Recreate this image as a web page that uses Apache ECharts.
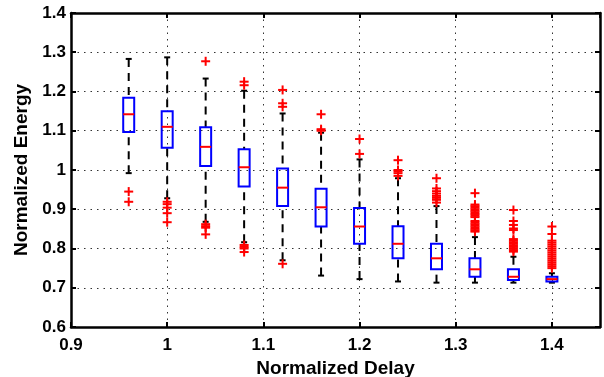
<!DOCTYPE html>
<html><head><meta charset="utf-8">
<script src="https://cdn.jsdelivr.net/npm/echarts@6/dist/echarts.min.js"></script>
<style>html,body{margin:0;padding:0;background:#fff}#c{width:604px;height:377px}</style>
</head><body><div id="c"></div>
<script>
// ---- data ----
const positions   = [0.96, 1.00, 1.04, 1.08, 1.12, 1.16, 1.20, 1.24, 1.28, 1.32, 1.36, 1.40];
const whiskerLow  = [0.992, 0.928, 0.868, 0.816, 0.770, 0.731, 0.722, 0.716, 0.713, 0.713, 0.713, 0.713];
const q1          = [1.097, 1.057, 1.010, 0.958, 0.908, 0.856, 0.812, 0.775, 0.747, 0.728, 0.720, 0.716];
const medians     = [1.142, 1.110, 1.059, 1.007, 0.955, 0.905, 0.856, 0.812, 0.775, 0.747, 0.728, 0.722];
const q3          = [1.184, 1.150, 1.109, 1.053, 1.004, 0.952, 0.903, 0.857, 0.812, 0.775, 0.747, 0.728];
const whiskerHigh = [1.283, 1.287, 1.233, 1.202, 1.144, 1.095, 1.027, 0.979, 0.908, 0.829, 0.779, 0.737];
const outliers = [
  [0.945, 0.919],
  [0.919, 0.913, 0.904, 0.890, 0.867],
  [1.277, 0.862, 0.857, 0.853, 0.836],
  [1.225, 1.216, 0.809, 0.804, 0.800, 0.791],
  [1.204, 1.170, 1.161, 0.761],
  [1.142, 1.104, 1.100],
  [1.079, 1.041],
  [1.025, 1.000, 0.997, 0.992, 0.985],
  [0.979, 0.953, 0.946, 0.940, 0.934, 0.929, 0.924, 0.917],
  [0.941, 0.912, 0.908, 0.904, 0.900, 0.896, 0.892, 0.888, 0.884, 0.880, 0.870, 0.866, 0.862, 0.858, 0.854, 0.850, 0.846, 0.843],
  [0.898, 0.870, 0.860, 0.851, 0.847, 0.824, 0.820, 0.816, 0.812, 0.808, 0.804, 0.800, 0.796, 0.792],
  [0.856, 0.837, 0.820, 0.815, 0.810, 0.805, 0.800, 0.795, 0.790, 0.785, 0.780, 0.775, 0.770, 0.765, 0.760, 0.755, 0.750]
];
const xTicks = [0.9, 1.0, 1.1, 1.2, 1.3, 1.4];
const yTicks = [0.6, 0.7, 0.8, 0.9, 1.0, 1.1, 1.2, 1.3, 1.4];
const xTitle = 'Normalized Delay';
const yTitle = 'Normalized Energy';

// ---- chart ----
const FONT = '"Liberation Sans", Arial, Helvetica, sans-serif';
const boxData = positions.map((p, i) => [p, whiskerLow[i], q1[i], medians[i], q3[i], whiskerHigh[i]]);
const outlierData = [];
outliers.forEach((arr, i) => arr.forEach(v => outlierData.push([positions[i], v])));

function renderBox(params, api) {
  const x = api.value(0);
  const pLow = api.coord([x, api.value(1)]);
  const pQ1 = api.coord([x, api.value(2)]);
  const pMed = api.coord([x, api.value(3)]);
  const pQ3 = api.coord([x, api.value(4)]);
  const pHigh = api.coord([x, api.value(5)]);
  const cx = pLow[0];
  const hw = 5.5, cw = 3;
  const dash = {stroke: '#000', lineWidth: 2, lineDash: [8, 6], fill: null};
  return {type: 'group', children: [
    {type: 'line', shape: {x1: cx, y1: pHigh[1], x2: cx, y2: pQ3[1]}, style: dash},
    {type: 'line', shape: {x1: cx, y1: pLow[1], x2: cx, y2: pQ1[1]}, style: dash},
    {type: 'line', shape: {x1: cx - cw, y1: pHigh[1], x2: cx + cw, y2: pHigh[1]}, style: {stroke: '#000', lineWidth: 2}},
    {type: 'line', shape: {x1: cx - cw, y1: pLow[1], x2: cx + cw, y2: pLow[1]}, style: {stroke: '#000', lineWidth: 2}},
    {type: 'rect', shape: {x: cx - hw, y: pQ3[1], width: hw * 2, height: pQ1[1] - pQ3[1]}, style: {stroke: '#0000ff', lineWidth: 2, fill: null}},
    {type: 'line', shape: {x1: cx - hw, y1: pMed[1], x2: cx + hw, y2: pMed[1]}, style: {stroke: '#ff0000', lineWidth: 2}}
  ]};
}
function renderPlus(params, api) {
  const p = api.coord([api.value(0), api.value(1)]);
  const s = 4.5;
  const st = {stroke: '#ff0000', lineWidth: 2};
  return {type: 'group', children: [
    {type: 'line', shape: {x1: p[0] - s, y1: p[1], x2: p[0] + s, y2: p[1]}, style: st},
    {type: 'line', shape: {x1: p[0], y1: p[1] - s, x2: p[0], y2: p[1] + s}, style: st}
  ]};
}

const gridLine = {show: true, lineStyle: {color: '#333', width: 1, type: [1.5, 5]}};
const frameLine = {show: true, onZero: false, lineStyle: {color: '#000', width: 2.5}};
const tickStyle = {show: true, inside: true, length: 5, lineStyle: {color: '#000', width: 2}};
const labelStyle = {color: '#000', fontFamily: FONT, fontWeight: 'bold', fontSize: 17};

const option = {
  animation: false,
  backgroundColor: '#fff',
  grid: {left: 71, right: 4, top: 13, bottom: 50, containLabel: false, outerBoundsMode: 'none'},
  xAxis: [
    {type: 'value', position: 'bottom', min: xTicks[0], max: 1.45, interval: 0.1,
     axisLine: frameLine, axisTick: tickStyle, splitLine: gridLine,
     axisLabel: Object.assign({margin: 10, showMaxLabel: false, formatter: v => String(+v.toFixed(2))}, labelStyle),
     name: xTitle, nameLocation: 'middle', nameGap: 30,
     nameTextStyle: {color: '#000', fontFamily: FONT, fontWeight: 'bold', fontSize: 19}},
    {type: 'value', position: 'top', min: xTicks[0], max: 1.45, interval: 0.1,
     axisLine: frameLine, axisTick: tickStyle, splitLine: {show: false}, axisLabel: {show: false}}
  ],
  yAxis: [
    {type: 'value', position: 'left', min: yTicks[0], max: yTicks[yTicks.length - 1], interval: 0.1,
     axisLine: frameLine, axisTick: tickStyle, splitLine: gridLine,
     axisLabel: Object.assign({margin: 5, formatter: v => String(+v.toFixed(2))}, labelStyle),
     name: yTitle, nameLocation: 'middle', nameGap: 33,
     nameTextStyle: {color: '#000', fontFamily: FONT, fontWeight: 'bold', fontSize: 19}},
    {type: 'value', position: 'right', min: yTicks[0], max: yTicks[yTicks.length - 1], interval: 0.1,
     axisLine: frameLine, axisTick: tickStyle, splitLine: {show: false}, axisLabel: {show: false}}
  ],
  series: [
    {type: 'custom', renderItem: renderBox, data: boxData, clip: false,
     encode: {x: 0, y: [1, 2, 3, 4, 5]}, z: 3},
    {type: 'custom', renderItem: renderPlus, data: outlierData, clip: false,
     encode: {x: 0, y: 1}, z: 4}
  ]
};
const chart = echarts.init(document.getElementById('c'), null, {renderer: 'canvas'});
chart.setOption(option);
</script>
</body></html>
